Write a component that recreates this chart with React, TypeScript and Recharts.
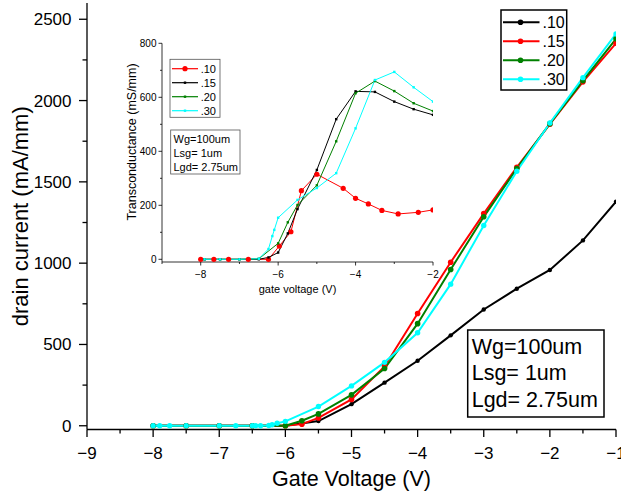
import React from "react";
import { LineChart, Line, XAxis, YAxis } from "recharts";

// main chart: drain current vs gate voltage
const x10 = [-8, -7.5, -7, -6.5, -6, -5.5, -5, -4.5, -4, -3.5, -3, -2.5, -2, -1.5, -1];
const id10 = [0, 0, 0, 0, 0, 29, 133, 265, 400, 556, 715, 843, 958, 1140, 1378];
const x15 = [-8, -7.5, -7, -6.5, -6, -5.75, -5.5, -5, -4.5, -4, -3.5, -3, -2.5, -2, -1.5, -1];
const id15 = [0, 0, 0, 0, 0, 10, 48, 162, 365, 690, 1006, 1305, 1590, 1855, 2115, 2352];
const x20 = [-8, -7.5, -7, -6.5, -6, -5.75, -5.5, -5, -4.5, -4, -3.5, -3, -2.5, -2, -1.5, -1];
const id20 = [0, 0, 0, 0, 0, 31, 73, 190, 352, 628, 961, 1285, 1582, 1858, 2122, 2380];
const x30 = [-8, -7.9, -7.75, -7.5, -7, -6.75, -6.5, -6.45, -6.375, -6.25, -6.2, -6.125, -6, -5.5, -5, -4.5, -4, -3.5, -3, -2.5, -2, -1.5, -1];
const id30 = [0, 0, 0, 0, 0, 0, 0, 0, 0, 2, 6, 15, 27, 118, 245, 390, 572, 871, 1232, 1565, 1862, 2141, 2410];

// inset: transconductance
const gx10 = [-8, -7.66, -7.28, -6.77, -6.25, -5.97, -5.67, -5.4, -5, -4.32, -4, -3.67, -3.32, -2.9, -2.38, -2];
const gm10 = [0, 0, 0, 0, 0, 49, 102, 254, 315, 263, 226, 205, 181, 168, 174, 183];
const gx15 = [-7.9, -7.5, -7, -6.5, -6.25, -6, -5.75, -5.5, -5, -4.5, -4, -3.5, -3, -2.5, -2];
const gm15 = [0, 0, 0, 0, 7, 25, 96, 186, 331, 519, 622, 620, 584, 556, 535];
const gx20 = [-7.9, -7.5, -7, -6.5, -6, -5.75, -5.5, -5, -4.5, -4, -3.5, -3, -2.5, -2];
const gm20 = [0, 0, 0, 2, 59, 137, 201, 274, 437, 615, 660, 623, 578, 549];
const gx30 = [-7.9, -7.5, -7, -6.5, -6.25, -6.15, -6.1, -6, -5.5, -5, -4.5, -4, -3.5, -3, -2.5, -2];
const gm30 = [0, 0, 0, 2, 38, 86, 109, 154, 220, 264, 319, 485, 664, 694, 637, 584];

const xTicks = [-9, -8.5, -8, -7.5, -7, -6.5, -6, -5.5, -5, -4.5, -4, -3.5, -3, -2.5, -2, -1.5, -1];
const yTicks = [0, 250, 500, 750, 1000, 1250, 1500, 1750, 2000, 2250, 2500];
const gxTicks = [-9, -8, -7, -6, -5, -4, -3, -2];
const gyTicks = [0, 100, 200, 300, 400, 500, 600, 700, 800];

const mainLegend = [".10", ".15", ".20", ".30"];
const insetLegend = [".10", ".15", ".20", ".30"];
const notes = ["Wg=100um", "Lsg= 1um", "Lgd= 2.75um"];

const zip = (xs: number[], ys: number[]) => xs.map((x, i) => ({ x, y: ys[i] }));

const FONT = "'Liberation Sans', Arial, sans-serif";
const fmt = (v: number) => String(v).replace("-", "\u2212");

const MainXTick = ({ x, y, payload }: any) => {
  const major = Number.isInteger(payload.value);
  return (
    <g>
      <line x1={x} x2={x} y1={y} y2={y + (major ? 7.5 : 4)} stroke="#000" strokeWidth={1.3} />
      {major && (
        <text x={x} y={y + 29} textAnchor="middle" fontSize={17} fontFamily={FONT} fill="#000">
          {fmt(payload.value)}
        </text>
      )}
    </g>
  );
};

const MainYTick = ({ x, y, payload }: any) => {
  const major = payload.value % 500 === 0;
  return (
    <g>
      <line x1={x - (major ? 8 : 4.5)} x2={x} y1={y} y2={y} stroke="#000" strokeWidth={1.3} />
      {major && (
        <text x={x - 15.5} y={y + 6} textAnchor="end" fontSize={17} fontFamily={FONT} fill="#000">
          {payload.value}
        </text>
      )}
    </g>
  );
};

const InsetXTick = ({ x, y, payload }: any) => {
  const major = payload.value % 2 === 0;
  return (
    <g>
      <line x1={x} x2={x} y1={y} y2={y + (major ? 3.5 : 2)} stroke="#000" strokeWidth={0.8} />
      {major && (
        <text x={x} y={y + 15.5} textAnchor="middle" fontSize={10} fontFamily={FONT} fill="#000">
          {fmt(payload.value)}
        </text>
      )}
    </g>
  );
};

const InsetYTick = ({ x, y, payload }: any) => {
  const major = payload.value % 200 === 0;
  return (
    <g>
      <line x1={x - (major ? 3.5 : 2)} x2={x} y1={y} y2={y} stroke="#000" strokeWidth={0.8} />
      {major && (
        <text x={x - 5.5} y={y + 3.5} textAnchor="end" fontSize={10} fontFamily={FONT} fill="#000">
          {payload.value}
        </text>
      )}
    </g>
  );
};

const SquareDot = (color: string) => (props: any) => {
  const { cx, cy, index } = props;
  if (cx == null || cy == null) return <g key={index} />;
  return <rect key={index} x={cx - 1.2} y={cy - 1.2} width={2.4} height={2.4} fill={color} />;
};

const mainColors = ["#000000", "#ff0000", "#008000", "#00ffff"];
const insetColors = ["#ff0000", "#000000", "#008000", "#00ffff"];

export default function App() {
  const series = [zip(x10, id10), zip(x15, id15), zip(x20, id20), zip(x30, id30)];
  const radii = [2.2, 2.8, 2.8, 2.7];
  const gseries = [zip(gx10, gm10), zip(gx15, gm15), zip(gx20, gm20), zip(gx30, gm30)];

  return (
    <div style={{ position: "absolute", left: 0, top: 0, width: 621, height: 503, background: "#fff", fontFamily: FONT }}>
      <LineChart width={621} height={503} margin={{ top: 3, right: 5, left: 0, bottom: 0 }}>
        <XAxis
          type="number"
          dataKey="x"
          domain={[-9, -1]}
          allowDataOverflow
          ticks={xTicks}
          interval={0}
          tickSize={0}
          tickMargin={0}
          tick={<MainXTick />}
          height={73.5}
          axisLine={{ stroke: "#000", strokeWidth: 1.3 }}
          label={{
            content: (p: any) => (
              <text x={p.viewBox.x + p.viewBox.width / 2} y={p.viewBox.y + 56.5} textAnchor="middle" fontSize={21.5} fontFamily={FONT} fill="#000">
                Gate Voltage (V)
              </text>
            ),
          }}
        />
        <XAxis xAxisId="top" orientation="top" type="number" domain={[-9, -1]} height={0} tick={false} tickLine={false} axisLine={{ stroke: "#000", strokeWidth: 1.3 }} />
        <YAxis
          type="number"
          domain={[-23, 2600]}
          allowDataOverflow
          ticks={yTicks}
          interval={0}
          tickSize={0}
          tickMargin={0}
          tick={<MainYTick />}
          width={87}
          axisLine={{ stroke: "#000", strokeWidth: 1.3 }}
          label={{
            content: (p: any) => {
              const cy = p.viewBox.y + p.viewBox.height / 2;
              return (
                <text x={28} y={cy} transform={`rotate(-90 28 ${cy})`} textAnchor="middle" fontSize={22} fontFamily={FONT} fill="#000">
                  drain current (mA/mm)
                </text>
              );
            },
          }}
        />
        <YAxis yAxisId="right" orientation="right" type="number" domain={[-23, 2600]} width={0} tick={false} tickLine={false} axisLine={{ stroke: "#000", strokeWidth: 1.3 }} />
        {series.map((d, i) => (
          <Line
            key={mainLegend[i]}
            data={d}
            dataKey="y"
            type="linear"
            stroke={mainColors[i]}
            strokeWidth={2}
            dot={{ r: radii[i], fill: mainColors[i], stroke: "none" }}
            activeDot={false}
            isAnimationActive={false}
          />
        ))}
      </LineChart>

      {/* inset */}
      <div style={{ position: "absolute", left: 110, top: 30 }}>
        <LineChart width={330} height={270} margin={{ top: 13.3, right: 7, left: 0, bottom: 0 }}>
          <XAxis
            type="number"
            dataKey="x"
            domain={[-9, -2]}
            allowDataOverflow
            ticks={gxTicks}
            interval={0}
            tickSize={0}
            tickMargin={0}
            tick={<InsetXTick />}
            height={38}
            axisLine={{ stroke: "#000", strokeWidth: 0.8 }}
            label={{
              content: (p: any) => (
                <text x={p.viewBox.x + p.viewBox.width / 2} y={p.viewBox.y + 31} textAnchor="middle" fontSize={11} fontFamily={FONT} fill="#000">
                  gate voltage (V)
                </text>
              ),
            }}
          />
          <XAxis xAxisId="top" orientation="top" type="number" domain={[-9, -2]} height={0} tick={false} tickLine={false} axisLine={{ stroke: "#000", strokeWidth: 0.8 }} />
          <YAxis
            type="number"
            domain={[-10, 800]}
            allowDataOverflow
            ticks={gyTicks}
            interval={0}
            tickSize={0}
            tickMargin={0}
            tick={<InsetYTick />}
            width={52}
            axisLine={{ stroke: "#000", strokeWidth: 0.8 }}
            label={{
              content: () => (
                <text x={26} y={112} transform="rotate(-90 26 112)" textAnchor="middle" fontSize={12.5} fontFamily={FONT} fill="#000">
                  Transconductance (mS/mm)
                </text>
              ),
            }}
          />
          <YAxis yAxisId="right" orientation="right" type="number" domain={[-10, 800]} width={0} tick={false} tickLine={false} axisLine={{ stroke: "#000", strokeWidth: 0.8 }} />
          {gseries.map((d, i) => (
            <Line
              key={insetLegend[i]}
              data={d}
              dataKey="y"
              type="linear"
              stroke={insetColors[i]}
              strokeWidth={1}
              dot={i === 0 ? { r: 2.6, fill: insetColors[i], stroke: "none" } : SquareDot(insetColors[i])}
              activeDot={false}
              isAnimationActive={false}
            />
          ))}
        </LineChart>
      </div>

      {/* legends and notes */}
      <svg style={{ position: "absolute", left: 0, top: 0 }} width={621} height={503} pointerEvents="none">
        <rect x={501} y={10} width={65.7} height={80} fill="#fff" stroke="#000" strokeWidth={1.5} />
        {mainLegend.map((s, i) => {
          const y = 22.3 + i * 19;
          return (
            <g key={s}>
              <line x1={503} x2={539.5} y1={y} y2={y} stroke={mainColors[i]} strokeWidth={2} />
              <circle cx={520.5} cy={y} r={2.8} fill={mainColors[i]} />
              <text x={542.5} y={y + 5.8} fontSize={16} fontFamily={FONT} fill="#000">{s}</text>
            </g>
          );
        })}

        <rect x={467.7} y={330} width={136.3} height={87} fill="#fff" stroke="#000" strokeWidth={1.5} />
        {notes.map((t, i) => (
          <text key={t} x={471.7} y={354 + i * 26.4} fontSize={21.5} fontFamily={FONT} fill="#000">{t}</text>
        ))}

        <rect x={170} y={59.3} width={50} height={58} fill="#fff" stroke="#555" strokeWidth={0.8} />
        {insetLegend.map((s, i) => {
          const y = 68.7 + i * 14;
          return (
            <g key={s}>
              <line x1={172} x2={198} y1={y} y2={y} stroke={insetColors[i]} strokeWidth={1.2} />
              {i === 0 ? (
                <circle cx={185} cy={y} r={2.6} fill={insetColors[i]} />
              ) : (
                <rect x={183.8} y={y - 1.2} width={2.4} height={2.4} fill={insetColors[i]} />
              )}
              <text x={200.7} y={y + 4} fontSize={11} fontFamily={FONT} fill="#000">{s}</text>
            </g>
          );
        })}
        <rect x={170.7} y={130} width={69.3} height={44} fill="#fff" stroke="#555" strokeWidth={0.8} />
        {notes.map((t, i) => (
          <text key={t} x={173.5} y={143.3 + i * 13.7} fontSize={11} fontFamily={FONT} fill="#000">{t}</text>
        ))}
      </svg>
    </div>
  );
}
